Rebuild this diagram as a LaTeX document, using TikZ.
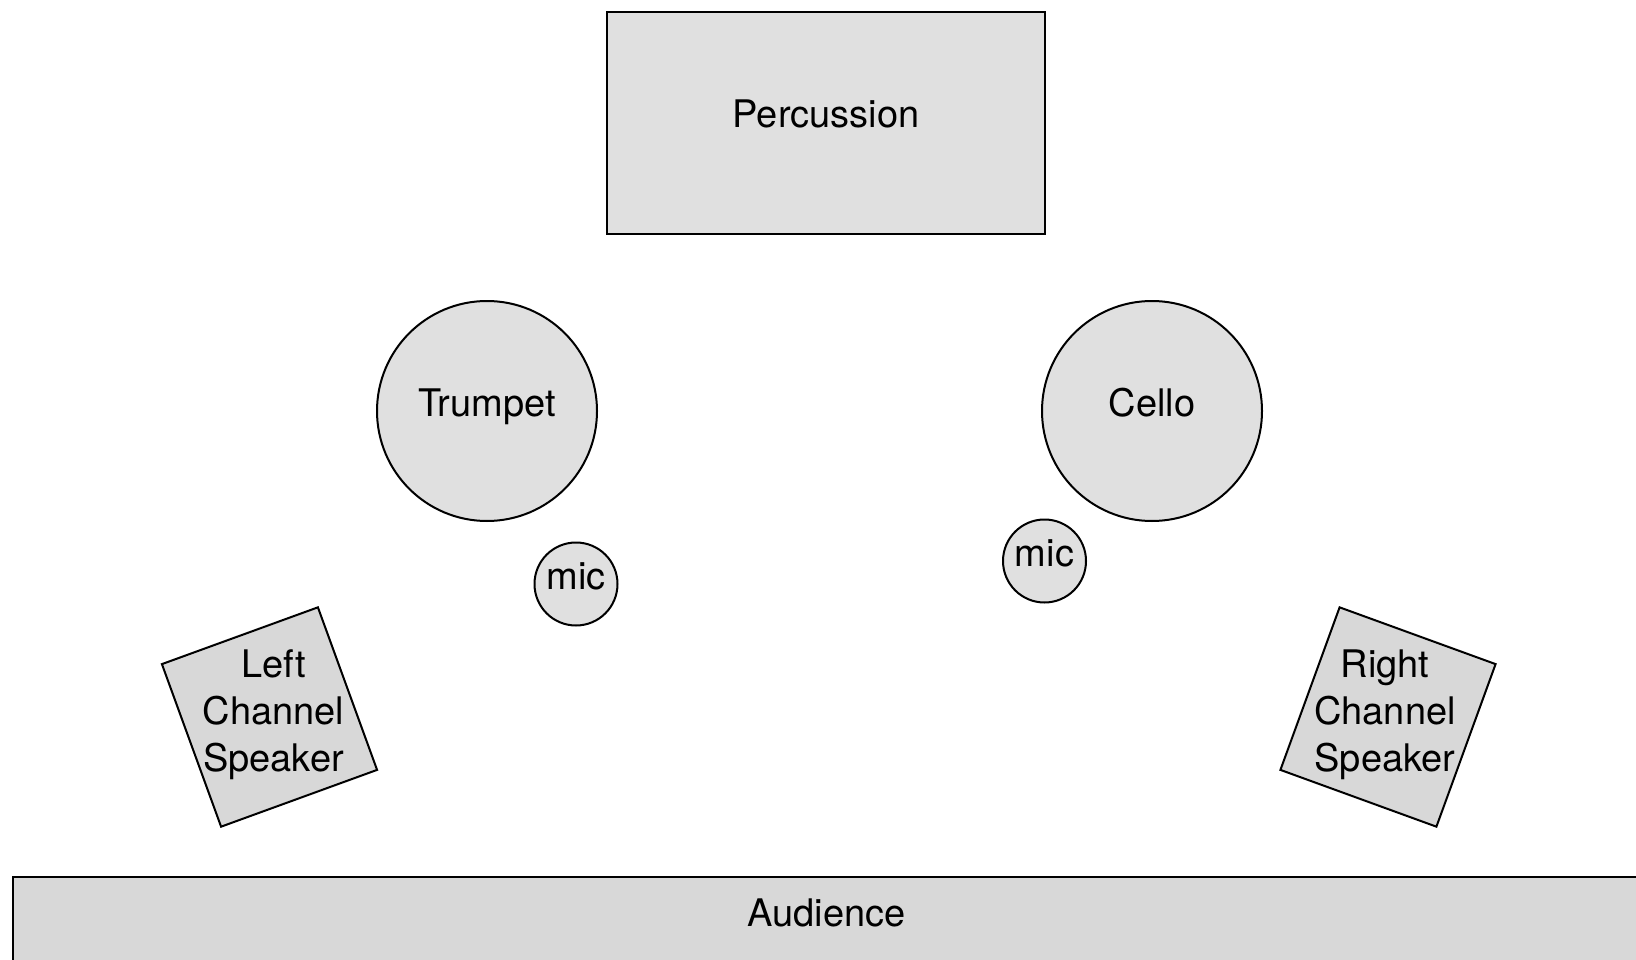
\documentclass[tikz,border=0pt]{standalone}
\usepackage{fontspec}
\setmainfont{TeX Gyre Heros}
\usetikzlibrary{positioning,calc}
\definecolor{lightfill}{RGB}{224,224,224}
\definecolor{darkfill}{RGB}{216,216,216}

\begin{document}
\begin{tikzpicture}[
  x=1pt, y=-1pt,
  base/.style={draw, line width=2pt, font=\fontsize{38}{47}\selectfont, align=center, inner sep=0pt},
  oneline/.style={text height=30pt, text depth=20pt},
  stagebox/.style={base, oneline, rectangle, fill=lightfill, minimum width=438pt, minimum height=222pt},
  player/.style={base, oneline, circle, fill=lightfill, minimum size=220pt},
  micnode/.style={base, oneline, circle, fill=lightfill, minimum size=83pt},
  speaker/.style={base, rectangle, fill=darkfill, minimum width=166pt, minimum height=173pt},
  crowd/.style={base, rectangle, fill=darkfill, minimum width=1640pt, minimum height=160pt},
  plain/.style={font=\fontsize{38}{47}\selectfont, align=center, inner sep=0pt},
]
\useasboundingbox (0,0) rectangle (1636,960);
\clip (0,0) rectangle (1636,960);

% Back: percussion
\node[stagebox] (perc) at (826,123) {Percussion};

% Middle: players and mics
\node[player] (trumpet) at (487,411) {Trumpet};
\node[player] (cello) at (1152,411) {Cello};
\node[micnode] (micL) at (576,584) {mic};
\node[micnode] (micR) at (1044.5,561) {mic};

% Front: speakers
\node[speaker, rotate=20] (spkL) at (269.5,717) {};
\node[plain] at ($(spkL.center)+(4,-2)$) {Left\\Channel\\Speaker};
\node[speaker, rotate=-20] (spkR) at (1388,717) {};
\node[plain] at ($(spkR.center)+(-3,-2)$) {Right\\Channel\\Speaker};

% Audience
\node[crowd, anchor=north west] (aud) at (11.5,876) {};
\node[plain] at ($(aud.north)+(-6,37)$) {Audience};
\end{tikzpicture}
\end{document}
